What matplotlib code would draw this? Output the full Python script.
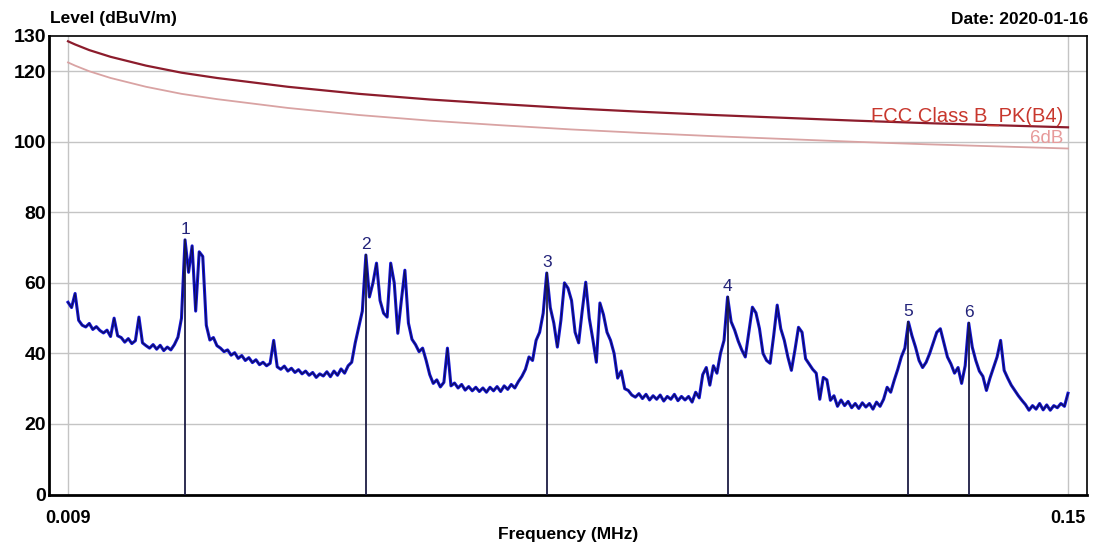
import matplotlib.pyplot as plt
import numpy as np

plt.rcParams['font.family'] = ['Liberation Sans', 'DejaVu Sans']

# sweep grid (MHz), 0.5 kHz steps
freq = np.arange(283) * 0.0005 + 0.009

level = [
    54.5, 53.0, 57.0, 49.4, 48.0,
    47.5, 48.5, 46.8, 47.6, 46.5,
    45.8, 46.6, 44.8, 50.0, 45.0,
    44.5, 43.2, 44.2, 42.8, 43.6,
    50.3, 43.0, 42.2, 41.5, 42.5,
    41.2, 42.3, 40.8, 41.8, 41.0,
    42.5, 44.6, 50.0, 72.2, 63.0,
    70.5, 52.0, 68.8, 67.5, 48.0,
    43.8, 44.5, 42.2, 41.5, 40.5,
    41.0, 39.5, 40.2, 38.6, 39.4,
    38.0, 38.8, 37.4, 38.2, 36.8,
    37.5, 36.5, 37.2, 43.7, 36.2,
    35.5, 36.4, 35.0, 35.8, 34.6,
    35.4, 34.2, 35.0, 33.8, 34.6,
    33.2, 34.2, 33.6, 34.8, 33.4,
    35.0, 33.8, 35.6, 34.4, 36.5,
    37.5, 43.0, 47.5, 52.0, 67.9,
    56.0, 60.0, 65.6, 55.0, 51.4,
    50.3, 65.6, 60.0, 45.7, 55.0,
    63.6, 48.6, 44.0, 42.5, 40.5,
    41.5, 38.0, 34.0, 31.5, 32.5,
    30.5, 31.8, 41.5, 30.8, 31.6,
    30.2, 31.2, 29.6, 30.6, 29.4,
    30.4, 29.2, 30.2, 29.0, 30.4,
    29.4, 30.6, 29.2, 30.8, 29.8,
    31.2, 30.2, 32.0, 33.5, 35.5,
    39.0, 38.0, 43.7, 46.0, 51.4,
    62.8, 53.0, 48.6, 41.8, 49.4,
    60.0, 58.5, 55.0, 46.0, 43.0,
    52.0, 60.2, 50.0, 44.0, 37.5,
    54.3, 51.0, 46.0, 43.7, 40.0,
    33.0, 35.0, 30.0, 29.5, 28.2,
    27.6, 28.6, 27.2, 28.4, 26.8,
    28.0, 27.0, 28.2, 26.5, 27.8,
    27.0, 28.4, 26.6, 27.8, 26.8,
    27.8, 26.2, 29.0, 27.4, 34.0,
    36.0, 31.0, 36.5, 34.4, 40.0,
    43.7, 56.0, 49.0, 46.6, 43.5,
    41.0, 39.0, 46.0, 53.1, 51.5,
    47.0, 40.0, 38.0, 37.2, 45.0,
    53.7, 47.0, 43.7, 39.0, 35.2,
    41.0, 47.4, 46.0, 38.5, 37.0,
    35.5, 34.4, 27.0, 33.2, 32.5,
    26.7, 28.0, 25.0, 26.8, 25.2,
    26.4, 24.6, 25.8, 24.4, 26.0,
    24.8, 25.8, 24.2, 26.2, 25.0,
    27.0, 30.4, 29.0, 32.4, 35.5,
    39.0, 41.5, 48.9, 45.0, 41.8,
    38.0, 36.0, 37.5, 40.0, 43.0,
    46.0, 47.0, 43.0, 39.0, 37.0,
    34.4, 36.0, 31.5, 36.5, 48.6,
    41.8, 38.0, 35.0, 33.5, 29.5,
    33.0, 36.0, 39.0, 43.7, 35.2,
    33.0, 31.0, 29.5, 28.0, 26.7,
    25.5, 23.9, 25.2, 24.2, 25.8,
    24.0, 25.4, 23.9, 25.2, 24.6,
    25.8, 25.0, 28.7,
]

# FCC Class B peak limit line
limit_freq = [0.009, 0.010, 0.012, 0.015, 0.020, 0.025, 0.030, 0.040, 0.050, 0.060,
              0.070, 0.080, 0.090, 0.100, 0.110, 0.120, 0.130, 0.140, 0.150]
limit_level = [128.5, 127.6, 126.0, 124.1, 121.6, 119.6, 118.1, 115.6, 113.6, 112.0,
               110.7, 109.5, 108.5, 107.6, 106.8, 106.0, 105.3, 104.7, 104.1]
margin = 6

# markers
mk_freq = [0.0255, 0.0510, 0.0765, 0.1020, 0.1275, 0.1360]
mk_level = [72.2, 67.9, 62.8, 56.0, 48.9, 48.6]
mk_names = ['1', '2', '3', '4', '5', '6']

fig = plt.figure(figsize=(10.96, 5.49), dpi=100)
ax = fig.add_axes([49 / 1096, 54.5 / 549, 1038 / 1096, 458.5 / 549])

for y in [20, 40, 60, 80, 100, 120]:
    ax.axhline(y, color='#c4c4c4', lw=1, zorder=1)
for x in [0.009, 0.15]:
    ax.axvline(x, color='#c4c4c4', lw=1, zorder=1)

lim = np.array(limit_level)
ax.plot(limit_freq, lim - margin, color='#d9a3a3', lw=1.3, zorder=2)
ax.plot(limit_freq, lim, color='#8c1c2c', lw=1.6, zorder=2)
ax.text(0.1493, 104.4, 'FCC Class B_PK(B4)', color='#c8372d', fontsize=14.5,
        ha='right', va='bottom', zorder=3)
ax.text(0.1493, 98.6, '6dB', color='#e79a9a', fontsize=13.5,
        ha='right', va='bottom', zorder=3)

ax.plot(freq, level, color='#1212d4', lw=2.2, zorder=4)
ax.plot(freq, level, color='#10104a', lw=0.7, zorder=4)

for f, l, n in zip(mk_freq, mk_level, mk_names):
    ax.plot([f, f], [0, l], color='#1c1c44', lw=1.3, zorder=5)
    ax.text(f, l + 0.8, n, color='#23237a', fontsize=12.5, ha='center', va='bottom', zorder=6)

ax.set_xlim(0.00632, 0.15268)
ax.set_ylim(0, 130)
ax.set_xticks([0.009, 0.15])
ax.set_xticklabels(['0.009', '0.15'], fontweight='bold', fontsize=13)
ax.set_yticks([0, 20, 40, 60, 80, 100, 120, 130])
ax.set_yticklabels(['0', '20', '40', '60', '80', '100', '120', '130'],
                   fontweight='bold', fontsize=14)
ax.tick_params(length=0, pad=2)
ax.tick_params(axis='x', pad=11)
for s in ax.spines.values():
    s.set_color('black')
    s.set_linewidth(1.2)
ax.spines['left'].set_linewidth(2)
ax.spines['bottom'].set_linewidth(2)

fig.text(50 / 1096, 1 - 19 / 549, 'Level (dBuV/m)', fontsize=12.5, fontweight='bold',
         ha='left', va='center')
fig.text(1088 / 1096, 1 - 19 / 549, 'Date: 2020-01-16', fontsize=12.5, fontweight='bold',
         ha='right', va='center')
fig.text(568 / 1096, 1 - 535 / 549, 'Frequency (MHz)', fontsize=12.5, fontweight='bold',
         ha='center', va='center')

fig.savefig('out.png', dpi=100)
